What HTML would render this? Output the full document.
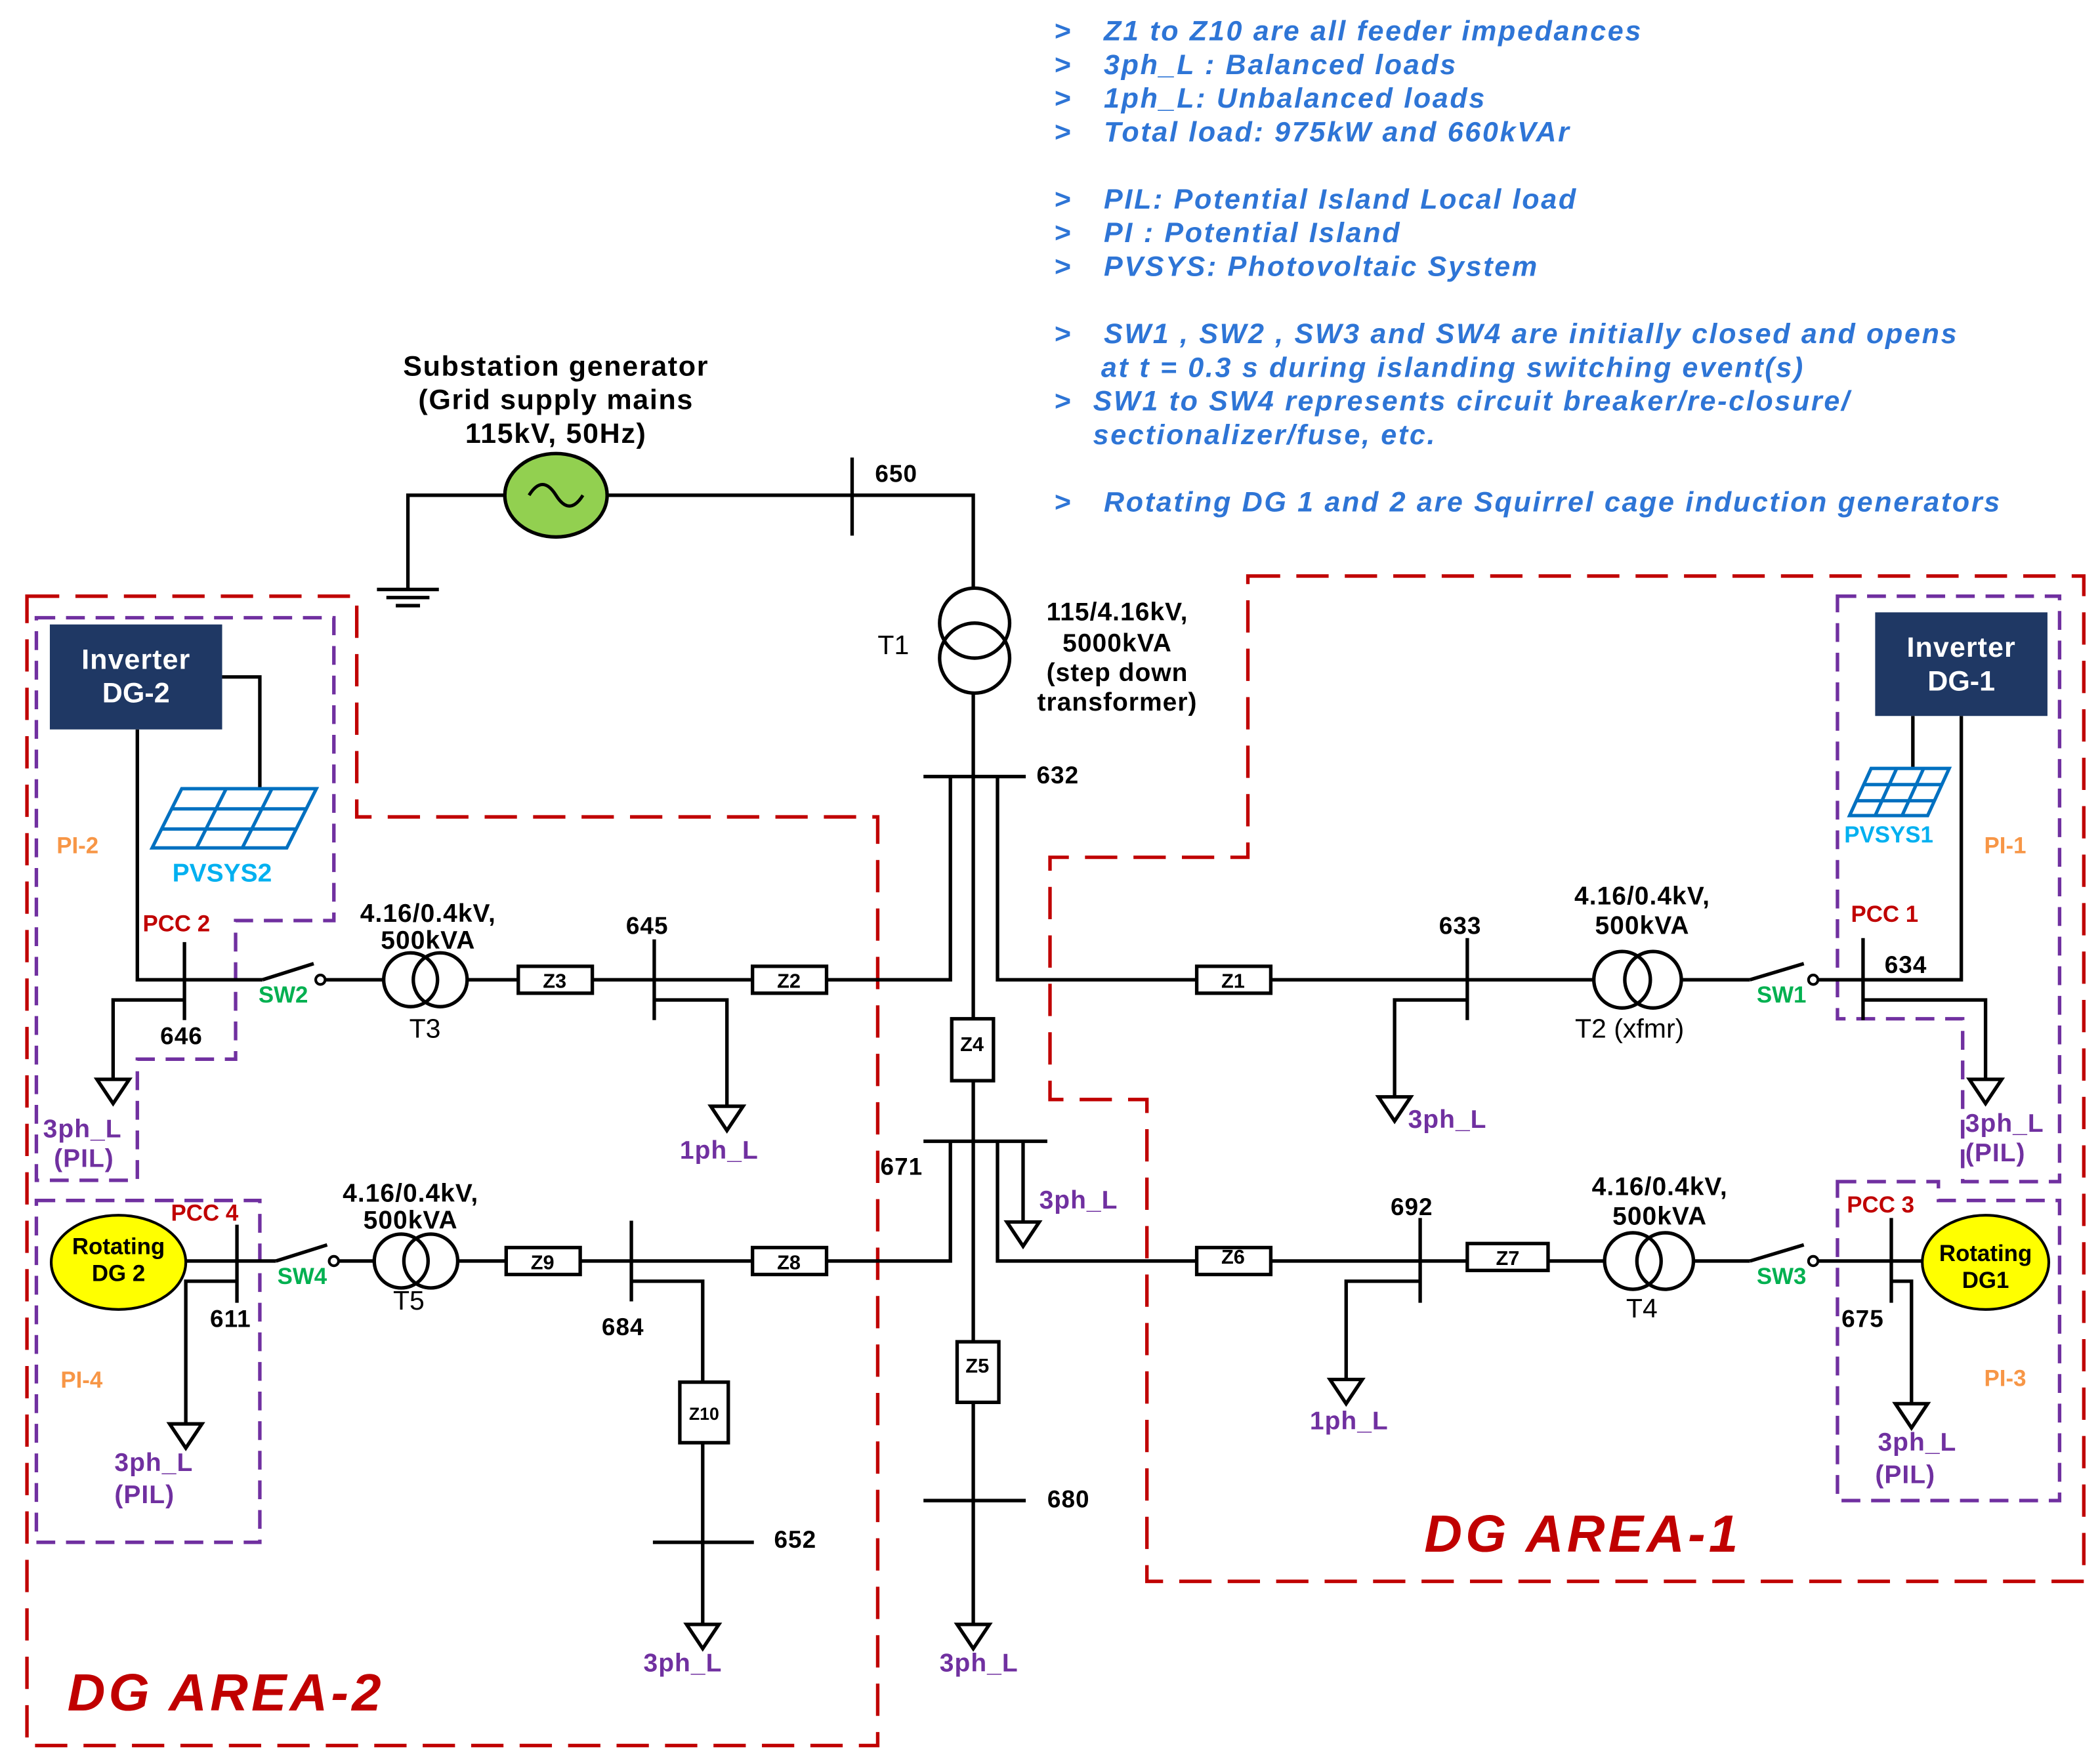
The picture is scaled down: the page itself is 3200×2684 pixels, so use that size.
<!DOCTYPE html>
<html><head><meta charset="utf-8"><style>
html,body{margin:0;padding:0;background:#fff}
svg{display:block}
text{font-family:"Liberation Sans",sans-serif;font-weight:bold}
.n{fill:#2e75d6;font-style:italic;font-size:21px;letter-spacing:1.3px;white-space:pre}
.b{fill:#000;font-size:18px;letter-spacing:0.5px}
.p{fill:#7030a0;font-size:19px;letter-spacing:0.5px}
.z{fill:#000;font-size:15px;font-weight:normal}
</style></head><body>
<svg width="3200" height="2684" viewBox="0 0 1560 1308.5" xmlns="http://www.w3.org/2000/svg" xml:space="preserve">
<rect width="1560" height="1309" fill="#fff"/>
<g class="n">
<text x="783" y="30">&gt;</text><text x="820" y="30">Z1 to Z10 are all feeder impedances</text>
<text x="783" y="55">&gt;</text><text x="820" y="55">3ph_L :  Balanced loads</text>
<text x="783" y="80">&gt;</text><text x="820" y="80">1ph_L:   Unbalanced loads</text>
<text x="783" y="105">&gt;</text><text x="820" y="105">Total load: 975kW and 660kVAr</text>
<text x="783" y="155">&gt;</text><text x="820" y="155">PIL:   Potential Island Local load</text>
<text x="783" y="180">&gt;</text><text x="820" y="180">PI :   Potential Island</text>
<text x="783" y="205">&gt;</text><text x="820" y="205">PVSYS: Photovoltaic System</text>
<text x="783" y="255">&gt;</text><text x="820" y="255">SW1 , SW2 , SW3 and SW4 are initially closed and opens</text>
<text x="818" y="280">at t = 0.3 s during islanding switching event(s)</text>
<text x="783" y="305">&gt;</text><text x="812" y="305">SW1 to SW4 represents circuit breaker/re-closure/</text>
<text x="812" y="330">sectionalizer/fuse, etc.</text>
<text x="783" y="380">&gt;</text><text x="820" y="380">Rotating DG 1 and 2 are Squirrel cage induction generators</text>
</g>
<g fill="none" stroke-width="2.6" stroke-dasharray="24 12">
<polygon stroke="#c00000" points="20,443 265,443 265,607 652,607 652,1297 20,1297"/>
<polygon stroke="#c00000" points="927,428 1548,428 1548,1175 852,1175 852,817 780,817 780,637 927,637"/>
<g stroke="#7030a0" stroke-dasharray="14 8">
<polygon points="27,459 248,459 248,684 175,684 175,787 102,787 102,877 27,877"/>
<polygon points="27,892 193,892 193,1146 27,1146"/>
<polygon points="1365,443 1530,443 1530,878 1458,878 1458,757 1370,757 1365,757"/>
<polygon points="1365,878 1440,878 1440,892 1530,892 1530,1115 1365,1115"/>
</g>
</g>
<g fill="none" stroke="#000" stroke-width="2.6">
<polyline points="375,368 303,368 303,438"/>
<line x1="280" y1="438" x2="326" y2="438"/><line x1="287" y1="444" x2="319" y2="444"/><line x1="294" y1="450" x2="312" y2="450"/>
<polyline points="451,368 723,368 723,438"/>
<line x1="633" y1="340" x2="633" y2="398"/>
<circle cx="724" cy="463" r="26"/><circle cx="724" cy="489" r="26"/>
<line x1="723" y1="515" x2="723" y2="578"/>
<line x1="686" y1="577" x2="762" y2="577"/>
<polyline points="706,577 706,728 614,728"/>
<polyline points="741,577 741,728 889,728"/>
<line x1="723" y1="577" x2="723" y2="757"/>
<rect x="707" y="757" width="31" height="46" fill="#fff"/>
<line x1="723" y1="803" x2="723" y2="997"/>
<line x1="686" y1="848" x2="778" y2="848"/>
<polyline points="706,848 706,937 614,937"/>
<polyline points="741,848 741,937 889,937"/>
<line x1="760" y1="848" x2="760" y2="908"/>
<rect x="711" y="997" width="31" height="45" fill="#fff"/>
<line x1="723" y1="1042" x2="723" y2="1207"/>
<line x1="686" y1="1115" x2="762" y2="1115"/>
<polyline points="102,542 102,728 195,728"/>
<line x1="137" y1="700" x2="137" y2="758"/>
<line x1="195" y1="728" x2="233" y2="716"/>
<polyline points="242,728 285,728"/>
<circle cx="305" cy="728" r="20"/><circle cx="327" cy="728" r="20"/>
<line x1="347" y1="728" x2="385" y2="728"/>
<rect x="385" y="718" width="55" height="20" fill="#fff"/>
<line x1="440" y1="728" x2="559" y2="728"/>
<rect x="559" y="718" width="55" height="20" fill="#fff"/>
<line x1="486" y1="698" x2="486" y2="758"/>
<polyline points="486,743 540,743 540,822"/>
<polyline points="137,743 84,743 84,802"/>
<polyline points="165,503 193,503 193,590"/>
<line x1="138" y1="937" x2="205" y2="937"/>
<line x1="176" y1="910" x2="176" y2="968"/>
<line x1="205" y1="937" x2="243" y2="925"/>
<line x1="252" y1="937" x2="278" y2="937"/>
<circle cx="298" cy="937" r="20"/><circle cx="320" cy="937" r="20"/>
<line x1="340" y1="937" x2="376" y2="937"/>
<rect x="376" y="927" width="55" height="20" fill="#fff"/>
<line x1="431" y1="937" x2="559" y2="937"/>
<rect x="559" y="927" width="55" height="20" fill="#fff"/>
<line x1="469" y1="907" x2="469" y2="967"/>
<polyline points="469,952 522,952 522,1027"/>
<rect x="505" y="1027" width="36" height="45" fill="#fff"/>
<line x1="522" y1="1072" x2="522" y2="1207"/>
<line x1="485" y1="1146" x2="560" y2="1146"/>
<polyline points="176,952 138,952 138,1058"/>
<rect x="889" y="718" width="55" height="20" fill="#fff"/>
<line x1="944" y1="728" x2="1185" y2="728"/>
<circle cx="1205" cy="728" r="21"/><circle cx="1228" cy="728" r="21"/>
<line x1="1249" y1="728" x2="1300" y2="728"/>
<line x1="1300" y1="728" x2="1340" y2="716"/>
<polyline points="1350,728 1457,728 1457,532"/>
<line x1="1090" y1="697" x2="1090" y2="758"/>
<line x1="1384" y1="697" x2="1384" y2="758"/>
<polyline points="1090,743 1036,743 1036,815"/>
<polyline points="1384,743 1475,743 1475,802"/>
<line x1="1421" y1="532" x2="1421" y2="572"/>
<rect x="889" y="927" width="55" height="20" fill="#fff"/>
<line x1="944" y1="937" x2="1090" y2="937"/>
<rect x="1090" y="924" width="60" height="20" fill="#fff"/>
<line x1="1150" y1="937" x2="1192" y2="937"/>
<circle cx="1213" cy="937" r="21"/><circle cx="1237" cy="937" r="21"/>
<line x1="1258" y1="937" x2="1300" y2="937"/>
<line x1="1300" y1="937" x2="1340" y2="925"/>
<line x1="1350" y1="937" x2="1428" y2="937"/>
<line x1="1055" y1="905" x2="1055" y2="968"/>
<line x1="1405" y1="905" x2="1405" y2="968"/>
<polyline points="1055,952 1000,952 1000,1025"/>
<polyline points="1405,952 1420,952 1420,1043"/>
</g>
<g fill="#fff" stroke="#000" stroke-width="2"><circle cx="238" cy="728" r="3.5"/><circle cx="248" cy="937" r="3.5"/><circle cx="1347" cy="728" r="3.5"/><circle cx="1347" cy="937" r="3.5"/></g>
<g fill="#fff" stroke="#000" stroke-width="2.6">
<polygon points="72,802 96,802 84,820"/><polygon points="528,822 552,822 540,840"/>
<polygon points="126,1058 150,1058 138,1076"/><polygon points="510,1207 534,1207 522,1225"/>
<polygon points="711,1207 735,1207 723,1225"/><polygon points="748,908 772,908 760,926"/>
<polygon points="1024,815 1048,815 1036,833"/><polygon points="1463,802 1487,802 1475,820"/>
<polygon points="988,1025 1012,1025 1000,1043"/><polygon points="1408,1043 1432,1043 1420,1061"/>
</g>
<ellipse cx="413" cy="368" rx="38" ry="31" fill="#92d050" stroke="#000" stroke-width="2.6"/>
<path d="M393,368 q10,-16 20,0 t20,0" fill="none" stroke="#000" stroke-width="2.4"/>
<rect x="37" y="464" width="128" height="78" fill="#1f3864"/>
<text x="101" y="497" fill="#fff" font-size="21" text-anchor="middle" letter-spacing="0.5">Inverter</text>
<text x="101" y="522" fill="#fff" font-size="21" text-anchor="middle">DG-2</text>
<rect x="1393" y="455" width="128" height="77" fill="#1f3864"/>
<text x="1457" y="488" fill="#fff" font-size="21" text-anchor="middle" letter-spacing="0.5">Inverter</text>
<text x="1457" y="513" fill="#fff" font-size="21" text-anchor="middle">DG-1</text>
<g stroke="#0070c0" stroke-width="2.5" fill="#fff">
<polygon points="135,586 235,586 213,630 113,630"/>
<line x1="128" y1="601" x2="228" y2="601"/><line x1="120" y1="616" x2="220" y2="616"/>
<line x1="168" y1="586" x2="146" y2="630"/><line x1="202" y1="586" x2="180" y2="630"/>
<polygon points="1390,571 1448,571 1432,606 1374,606"/>
<line x1="1385" y1="583" x2="1443" y2="583"/><line x1="1379" y1="595" x2="1437" y2="595"/>
<line x1="1409" y1="571" x2="1393" y2="606"/><line x1="1429" y1="571" x2="1413" y2="606"/>
</g>
<ellipse cx="88" cy="938" rx="50" ry="35" fill="#ffff00" stroke="#000" stroke-width="2"/>
<text x="88" y="932" font-size="17" text-anchor="middle">Rotating</text>
<text x="88" y="952" font-size="17" text-anchor="middle">DG 2</text>
<ellipse cx="1475" cy="938" rx="47" ry="35" fill="#ffff00" stroke="#000" stroke-width="2"/>
<text x="1475" y="937" font-size="17" text-anchor="middle">Rotating</text>
<text x="1475" y="957" font-size="17" text-anchor="middle">DG1</text>
<g class="b" font-size="21" text-anchor="middle" style="font-size:21px;letter-spacing:0.8px">
<text x="413" y="279">Substation generator</text>
<text x="413" y="304">(Grid supply mains</text>
<text x="413" y="329">115kV, 50Hz)</text>
</g>
<g class="b" text-anchor="middle" style="font-size:19px">
<text x="830" y="461">115/4.16kV,</text><text x="830" y="484">5000kVA</text>
<text x="830" y="506">(step down</text><text x="830" y="528">transformer)</text>
<text x="318" y="685">4.16/0.4kV,</text><text x="318" y="705">500kVA</text>
<text x="305" y="893">4.16/0.4kV,</text><text x="305" y="913">500kVA</text>
<text x="1220" y="672">4.16/0.4kV,</text><text x="1220" y="694">500kVA</text>
<text x="1233" y="888">4.16/0.4kV,</text><text x="1233" y="910">500kVA</text>
</g>
<g class="b">
<text x="650" y="358">650</text><text x="770" y="582">632</text>
<text x="465" y="694">645</text><text x="119" y="776">646</text>
<text x="1069" y="694">633</text><text x="1400" y="723">634</text>
<text x="654" y="873">671</text><text x="1033" y="903">692</text>
<text x="447" y="992">684</text><text x="156" y="986">611</text>
<text x="1368" y="986">675</text><text x="778" y="1120">680</text>
<text x="575" y="1150">652</text>
</g>
<g font-size="20">
<text x="652" y="486" style="font-weight:normal">T1</text>
<text x="304" y="771" style="font-weight:normal">T3</text>
<text x="292" y="973" style="font-weight:normal">T5</text>
<text x="1170" y="771" style="font-weight:normal">T2 (xfmr)</text>
<text x="1208" y="979" style="font-weight:normal">T4</text>
</g>
<g class="z" text-anchor="middle">
<text x="412" y="734">Z3</text><text x="586" y="734">Z2</text><text x="916" y="734">Z1</text>
<text x="722" y="781">Z4</text><text x="726" y="1020">Z5</text>
<text x="403" y="943">Z9</text><text x="586" y="943">Z8</text>
<text x="916" y="939">Z6</text><text x="1120" y="940">Z7</text>
<text x="523" y="1055" font-size="13">Z10</text>
</g>
<g class="p">
<text x="32" y="845">3ph_L</text><text x="40" y="867">(PIL)</text>
<text x="505" y="861">1ph_L</text>
<text x="772" y="898">3ph_L</text>
<text x="1046" y="838">3ph_L</text>
<text x="1460" y="841">3ph_L</text><text x="1460" y="863">(PIL)</text>
<text x="973" y="1062">1ph_L</text>
<text x="85" y="1093">3ph_L</text><text x="85" y="1117">(PIL)</text>
<text x="1395" y="1078">3ph_L</text><text x="1393" y="1102">(PIL)</text>
<text x="478" y="1242">3ph_L</text><text x="698" y="1242">3ph_L</text>
</g>
<g font-size="17">
<text x="42" y="634" fill="#f79646">PI-2</text>
<text x="45" y="1031" fill="#f79646">PI-4</text>
<text x="1474" y="634" fill="#f79646">PI-1</text>
<text x="1474" y="1030" fill="#f79646">PI-3</text>
<text x="128" y="655" fill="#00b0f0" font-size="19">PVSYS2</text>
<text x="1370" y="626" fill="#00b0f0">PVSYS1</text>
<text x="106" y="692" fill="#c00000">PCC 2</text>
<text x="127" y="907" fill="#c00000">PCC 4</text>
<text x="1375" y="685" fill="#c00000">PCC 1</text>
<text x="1372" y="901" fill="#c00000">PCC 3</text>
<text x="192" y="745" fill="#00b050">SW2</text>
<text x="206" y="954" fill="#00b050">SW4</text>
<text x="1305" y="745" fill="#00b050">SW1</text>
<text x="1305" y="954" fill="#00b050">SW3</text>
</g>
<text x="50" y="1271" fill="#c00000" font-size="39" font-style="italic" letter-spacing="2.5">DG AREA-2</text>
<text x="1058" y="1153" fill="#c00000" font-size="39" font-style="italic" letter-spacing="2.5">DG AREA-1</text>
</svg>
</body></html>
